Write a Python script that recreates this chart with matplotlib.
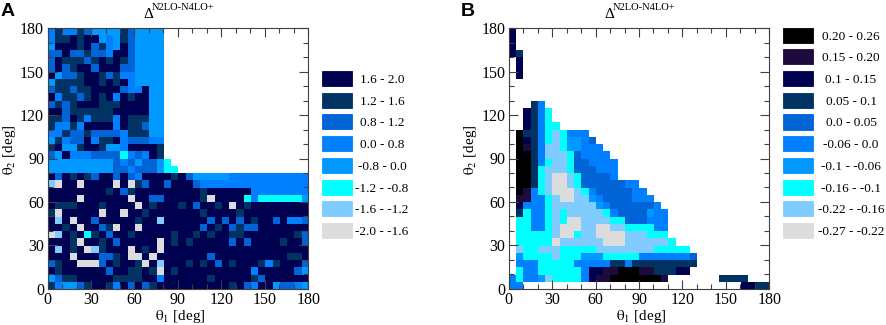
import numpy as np
import matplotlib
matplotlib.use('Agg')
import matplotlib.pyplot as plt
from matplotlib.colors import ListedColormap
from matplotlib.patches import Rectangle
from matplotlib.ticker import MultipleLocator

plt.rcParams['font.family'] = ['Liberation Serif', 'DejaVu Serif']
plt.rcParams['mathtext.fontset'] = 'stix'

# level codes, one letter per 5 deg cell, top row (175-180) first
a_codes = 'abcdefgh'
a_labels = ['1.6 - 2.0', '1.2 - 1.6', '0.8 - 1.2', '0.0 - 0.8',
            '-0.8 - 0.0', '-1.2 - -0.8', '-1.6 - -1.2', '-2.0 - -1.6']
a_colors = ['#000050', '#003264', '#0064d7', '#0080ff',
            '#0099ff', '#00ffff', '#80ccff', '#dcdcdc']
a_rows = [
    'dbddbc eeeebc eeee',
    'dbbaba aedebc eeee',
    'eaaaba cbdeac eeee',
    'ccaccb ccdaac eeee',
    'cabbbc bababc eeee',
    'cacbaa caaacc eeee',
    'aeccba abcbdd eeee',
    'ebbbba ababad eeee',
    'cbbcbb aaaacd daee',
    'adbbcb abadab aaee',
    'cbcbaa abbbaa aaee',
    'aacbbb bbbaaa aaee',
    'bbcabd bbbdab bbee',
    'bddbda aaadab bcee',
    'ddbccb ccccdb bbee',
    'ebdcca dbbadc ccdd',
    'baeeba abeeda aaab',
    'ceaddd ccccfd cdab',
    'eeeeee eeecdc ecce f',
    'eeeeee eeeccd ccce ff',
    'acabab caacac daaaab aceeee eddddd dddddd',
    'ghaaha aaahah bcaaca aacddd dddddd dddddd',
    'aaaaaa aabacb aaaaaa aaabaa aaaadd dddddd',
    'aaaaha aaaaah aaccaa aaabha aaafdf fffffe',
    'abbbaa abaaaa habaaa bacaab ahabaa aaaaaa',
    'bhaaaa ahaaha abaaaa aaabaa aabaaa aaaaaa',
    'agahaa caaaaa baagaa aaaaca cacaba acaddc',
    'aabaha acbhaa haaaaa aaacab acbcca aaaaaa',
    'hgabaf bacaab aaaaab aababa abbaaa aaaabc',
    'aaabha abacaa aaahab abaaaa acacaa aabaac',
    'agabah gbaaah abahaa aaaaaa aaaaaa aaaaaa',
    'aaahaa accbah hahaaa aaaaca aaaaaa aaabba',
    'cbaahh hcabaa bhagaa ababac abaaab dbaaac',
    'abaaaa aacaab babhab aaaaaa aaaada aaaace',
    'ecbbaa aaabbb baadaa aaaaba aaaabc aaaaaa',
    'bdeecb aabdac acbaaa aaaaaa abacda aeccde',
]

b_codes = 'abcdefghij'
b_labels = ['0.20 - 0.26', '0.15 - 0.20', '0.1 - 0.15', '0.05 - 0.1', '0.0 - 0.05',
            '-0.06 - 0.0', '-0.1 - -0.06', '-0.16 - -0.1', '-0.22 - -0.16', '-0.27 - -0.22']
b_colors = ['#000000', '#1e0a3c', '#000050', '#003264', '#0064d7',
            '#0080ff', '#0099ff', '#00ffff', '#80ccff', '#dcdcdc']
b_rows = [
    'c',
    'c',
    'c',
    'cd',
    '.c',
    '.c',
    '.c',
    '',
    '',
    '',
    '...df',
    '..cdfh',
    '..cdfh',
    '..cdfh h',
    '.addfh ihfff',
    '.acdfh ihggfe',
    '.abdfi ihggff f',
    '.aadfi iiheff ff',
    '.aadfh iiheef fff',
    '.aadhi iiheee fff',
    '.aadhi jjihee eef',
    '.aadhi jjihee eeeeff',
    '.abfhi jjjihf eeeeef f',
    '.bbffh ijjiig feeeef ff',
    '.cfffh iiiiii gfeeee eef',
    '.dhffh ihiiii ihfeee egff',
    '.hhffh ihjjii iihhee efff',
    '.hhffh ijjjii jjiihh hhff',
    '.hhhhh ijjhii jjjjii ihhh',
    '.hhhhh jiiiii ijjjii iiiih',
    '.ihhii ihhhhh iiiiii iihhhh h',
    '.ghhhh ihhhgg ghhhhh ffffff fe',
    '.fffhh hhhfff ffddfd dddddd dd',
    '.hffhh hhhhfc cbbaaa bbdddc c',
    'fhffgi hhhhfc bbaaaa aaab.. .....d ddd',
    'ff.... ...... ...... ...... ...... ..ccdd',
]

tick_major = np.arange(0, 181, 30)


def to_grid(rows, codes):
    grid = np.full((36, 36), np.nan)
    for i, row in enumerate(rows):
        row = row.replace(' ', '')
        for j, ch in enumerate(row):
            if ch != '.':
                grid[35 - i, j] = codes.index(ch)
    return grid


W, H = 886, 325
fig = plt.figure(figsize=(W / 100, H / 100), dpi=100)


def panel(left, letter, letter_x, rows, codes, colors, labels, sw_x, sw_top, lab_dx):
    ax = fig.add_axes([left / W, 1 - 288.7 / H, 260.6 / W, 260.4 / H])
    grid = np.ma.masked_invalid(to_grid(rows, codes))
    cmap = ListedColormap(colors)
    ax.imshow(grid, origin='lower', extent=(0, 180, 0, 180), cmap=cmap, vmin=-0.5, vmax=len(colors) - 0.5,
              interpolation='nearest', aspect='auto', zorder=1)
    ax.set_xlim(0, 180)
    ax.set_ylim(0, 180)
    ax.set_xticks(tick_major)
    ax.set_yticks(tick_major)
    ax.xaxis.set_minor_locator(MultipleLocator(10))
    ax.yaxis.set_minor_locator(MultipleLocator(10))
    ax.tick_params(which='major', direction='in', top=True, right=True, length=6.5, width=0.8,
                   color='#404040', labelsize=11.5, pad=2.5)
    ax.tick_params(which='minor', direction='in', top=True, right=True, length=3.3, width=0.8,
                   color='#404040')
    ax.set_axisbelow(False)
    for s in ax.spines.values():
        s.set_linewidth(0.8)
        s.set_color('#404040')
        s.set_zorder(5)

    fig.text((left + 132.5) / W, 1 - 320 / H, r'$\mathrm{\theta_1}$ [deg]', ha='center', va='baseline', fontsize=11)
    fig.text((left - 38) / W, 1 - 150 / H, r'$\mathrm{\theta_2}$ [deg]', ha='center', va='center',
             rotation=90, fontsize=11)
    fig.text((left + 95.5) / W, 1 - 17.5 / H, '\u0394', ha='left', va='baseline', fontsize=11)
    fig.text((left + 104.5) / W, 1 - 9.5 / H, 'N2LO-N4LO+', ha='left', va='baseline', fontsize=7.6)
    fig.text(letter_x / W, 1 - 15.5 / H, letter, ha='left', va='baseline', fontsize=14, fontweight='bold',
             family='Liberation Sans')

    for i, (c, lab) in enumerate(zip(colors, labels)):
        y = sw_top + 21.7 * i
        fig.add_artist(Rectangle((sw_x / W, 1 - (y + 15) / H), 30 / W, 15 / H, transform=fig.transFigure,
                                 facecolor=c, edgecolor=c, linewidth=0.6))
        fig.text((sw_x + lab_dx) / W, 1 - (y + 12) / H, lab, ha='center', va='baseline', fontsize=9.5)


panel(47.6, 'A', 1, a_rows, a_codes, a_colors, a_labels, 322, 71, 60)
panel(508.7, 'B', 461, b_rows, b_codes, b_colors, b_labels, 783, 27.7, 68)

fig.savefig('out.png', dpi=100)
